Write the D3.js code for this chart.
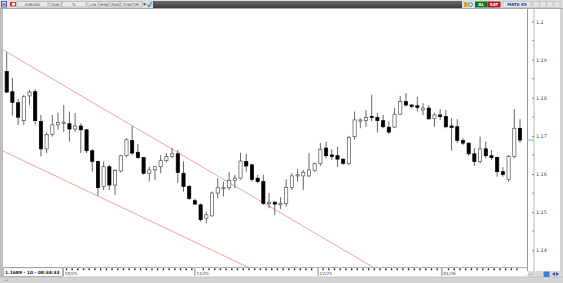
<!DOCTYPE html>
<html>
<head>
<meta charset="utf-8">
<script src="https://cdn.jsdelivr.net/npm/d3@7"></script>
<style>
  html, body { margin: 0; padding: 0; background: #d6d6d6; }
  svg { display: block; }
  text { font-family: "DejaVu Sans", sans-serif; }
</style>
</head>
<body>
<svg id="chart" width="563" height="283"></svg>
<script>
"use strict";

/* ── Data: EURUSD daily candles ── */
const opens = [
  1.1869, 1.1816, 1.1787, 1.1740, 1.1805, 1.1816, 1.1738, 1.1666, 1.1704, 1.1729,
  1.1733, 1.1732, 1.1718, 1.1726, 1.1716, 1.1661, 1.1633, 1.1567, 1.1619, 1.1571,
  1.1608, 1.1648, 1.1688, 1.1657, 1.1643, 1.1602, 1.1611, 1.1619, 1.1635, 1.1646,
  1.1653, 1.1602, 1.1567, 1.1530, 1.1519, 1.1484, 1.1490, 1.1550, 1.1562, 1.1564,
  1.1583, 1.1589, 1.1633, 1.1624, 1.1589, 1.1580, 1.1522, 1.1526, 1.1519, 1.1523,
  1.1565, 1.1595, 1.1595, 1.1595, 1.1609, 1.1627, 1.1668, 1.1650, 1.1648, 1.1639,
  1.1627, 1.1698, 1.1739, 1.1740, 1.1751, 1.1748, 1.1740, 1.1723, 1.1723, 1.1757,
  1.1790, 1.1781, 1.1779, 1.1768, 1.1773, 1.1746, 1.1755, 1.1751, 1.1726, 1.1724,
  1.1688, 1.1681, 1.1653, 1.1633, 1.1666, 1.1648, 1.1643, 1.1606, 1.1586, 1.1646,
  1.1720
];
const highs = [
  1.1919, 1.1852, 1.1797, 1.1808, 1.1821, 1.1823, 1.1755, 1.1709, 1.1755, 1.1761,
  1.1781, 1.1764, 1.1760, 1.1733, 1.1718, 1.1665, 1.1635, 1.1633, 1.1624, 1.1613,
  1.1650, 1.1694, 1.1726, 1.1679, 1.1644, 1.1619, 1.1621, 1.1650, 1.1655, 1.1668,
  1.1663, 1.1633, 1.1571, 1.1536, 1.1523, 1.1501, 1.1554, 1.1589, 1.1580, 1.1606,
  1.1598, 1.1656, 1.1653, 1.1627, 1.1598, 1.1598, 1.1550, 1.1528, 1.1539, 1.1586,
  1.1602, 1.1613, 1.1611, 1.1655, 1.1630, 1.1681, 1.1685, 1.1665, 1.1672, 1.1641,
  1.1700, 1.1764, 1.1746, 1.1768, 1.1808, 1.1760, 1.1755, 1.1738, 1.1773, 1.1805,
  1.1812, 1.1784, 1.1803, 1.1786, 1.1781, 1.1761, 1.1770, 1.1768, 1.1746, 1.1744,
  1.1694, 1.1682, 1.1668, 1.1698, 1.1685, 1.1663, 1.1646, 1.1618, 1.1650, 1.1770,
  1.1744
];
const lows = [
  1.1813, 1.1753, 1.1729, 1.1729, 1.1781, 1.1729, 1.1646, 1.1655, 1.1698, 1.1716,
  1.1711, 1.1685, 1.1711, 1.1655, 1.1655, 1.1606, 1.1543, 1.1558, 1.1558, 1.1545,
  1.1604, 1.1644, 1.1650, 1.1640, 1.1598, 1.1580, 1.1585, 1.1602, 1.1630, 1.1641,
  1.1577, 1.1554, 1.1532, 1.1519, 1.1475, 1.1471, 1.1488, 1.1536, 1.1541, 1.1558,
  1.1563, 1.1585, 1.1606, 1.1580, 1.1576, 1.1519, 1.1510, 1.1493, 1.1508, 1.1514,
  1.1558, 1.1580, 1.1558, 1.1592, 1.1606, 1.1621, 1.1641, 1.1637, 1.1619, 1.1624,
  1.1624, 1.1690, 1.1720, 1.1724, 1.1738, 1.1709, 1.1720, 1.1705, 1.1720, 1.1755,
  1.1777, 1.1773, 1.1764, 1.1755, 1.1742, 1.1724, 1.1742, 1.1720, 1.1661, 1.1681,
  1.1676, 1.1648, 1.1621, 1.1628, 1.1641, 1.1637, 1.1593, 1.1593, 1.1580, 1.1641,
  1.1682
];
const closes = [
  1.1815, 1.1788, 1.1749, 1.1803, 1.1815, 1.1740, 1.1666, 1.1704, 1.1729, 1.1735,
  1.1736, 1.1718, 1.1726, 1.1716, 1.1661, 1.1633, 1.1564, 1.1619, 1.1571, 1.1609,
  1.1648, 1.1690, 1.1655, 1.1643, 1.1602, 1.1611, 1.1619, 1.1635, 1.1646, 1.1653,
  1.1604, 1.1567, 1.1536, 1.1521, 1.1480, 1.1493, 1.1550, 1.1564, 1.1564, 1.1583,
  1.1589, 1.1634, 1.1621, 1.1586, 1.1580, 1.1523, 1.1526, 1.1521, 1.1523, 1.1565,
  1.1595, 1.1598, 1.1604, 1.1611, 1.1627, 1.1665, 1.1648, 1.1646, 1.1639, 1.1628,
  1.1696, 1.1742, 1.1742, 1.1748, 1.1748, 1.1740, 1.1724, 1.1710, 1.1757, 1.1790,
  1.1781, 1.1777, 1.1775, 1.1773, 1.1745, 1.1755, 1.1751, 1.1724, 1.1722, 1.1688,
  1.1681, 1.1653, 1.1633, 1.1666, 1.1648, 1.1643, 1.1606, 1.1599, 1.1646, 1.1720,
  1.1689
];

const priceTicks  = [1.14, 1.15, 1.16, 1.17, 1.18, 1.19, 1.20];
const priceLabels = ["1.14", "1.15", "1.16", "1.17", "1.18", "1.19", "1.2"];
const minorTicks  = [1.145, 1.155, 1.165, 1.175, 1.185, 1.195];

const monthTickIdx = [9.9, 33.0, 54.6, 76.3];
const monthLabels  = ["10/25", "11/25", "12/25", "01/26"];

// two trend lines, each given by two (bar index, price) anchors
const upperLine = [[-0.47, 1.19242], [29.51, 1.16606]];
const lowerLine = [[-0.47, 1.16588], [42.08, 1.13569]];

const lastPrice = 1.1689;
const infoText  = "1.1689 - 10 - 08:34:33";

/* ── Layout ── */
const W = 563, H = 283;
const PLOT = { left: 3, top: 9, right: 527, bottom: 267 };
const AXIS_X = 534;

const svg = d3.select("#chart");

const x = d3.scaleLinear().domain([0, opens.length - 1]).range([6.7, 520]);
const y = d3.scaleLinear().domain([1.14, 1.20]).range([250.2, 21.6]);

/* ── Window frame ── */
svg.append("rect").attr("width", W).attr("height", H).attr("fill", "#d4d4d4");
svg.append("rect")
  .attr("x", 3).attr("y", PLOT.top)
  .attr("width", 557).attr("height", 268)
  .attr("fill", "#fff");
// left gray strip
svg.append("rect").attr("x", 0).attr("y", PLOT.top).attr("width", 3).attr("height", 268)
  .attr("fill", "#bdbdbd");

/* ── Top toolbar ── */
const tb = svg.append("g");
tb.append("rect").attr("x", 0).attr("y", 0).attr("width", W).attr("height", 9).attr("fill", "#dcdcdc");
tb.append("line").attr("x1", 0).attr("x2", W).attr("y1", 8.5).attr("y2", 8.5)
  .attr("stroke", "#9a9a9a").attr("stroke-width", 0.8);
// H icon + flag
tb.append("rect").attr("x", 1.5).attr("y", 1.5).attr("width", 5).attr("height", 5.5)
  .attr("fill", "#e8eefc").attr("stroke", "#2c4ca8").attr("stroke-width", 0.8);
tb.append("text").attr("x", 4).attr("y", 6.3).attr("text-anchor", "middle")
  .attr("font-size", 4.5).attr("font-weight", "bold").attr("fill", "#2c4ca8").text("H");
tb.append("rect").attr("x", 10).attr("y", 2).attr("width", 6).attr("height", 4.5).attr("fill", "#d33");
tb.append("rect").attr("x", 12).attr("y", 3).attr("width", 3).attr("height", 2.5).attr("fill", "#fff");

const fields = [
  { x: 17, w: 31, t: "EURUSD" },
  { x: 50, w: 11, t: "SUN" },
  { x: 62, w: 24, t: "TL" },
  { x: 88, w: 10, t: "LIN" },
  { x: 99, w: 10, t: "XHW" },
  { x: 111, w: 9, t: "SVD" },
  { x: 121, w: 21, t: "SYNCTRF" }
];
fields.forEach((f) => {
  tb.append("rect").attr("x", f.x).attr("y", 1.5).attr("width", f.w).attr("height", 5.5)
    .attr("fill", "#e9e9e9").attr("stroke", "#a5a5a5").attr("stroke-width", 0.6);
  tb.append("text").attr("x", f.x + f.w / 2).attr("y", 5.8).attr("text-anchor", "middle")
    .attr("font-size", 3.6).attr("fill", "#333").text(f.t);
});
tb.append("path").attr("d", "M143,3.5 L146,3.5 L144.5,5.5 Z").attr("fill", "#333");
tb.append("path").attr("d", "M147.5,4.5 L149,6.5 L152,1.8").attr("fill", "none")
  .attr("stroke", "#2a8fe0").attr("stroke-width", 1.2);

// dark strip
const grad = svg.append("defs").append("linearGradient").attr("id", "dark").attr("x1", 0).attr("x2", 0).attr("y1", 0).attr("y2", 1);
grad.append("stop").attr("offset", 0).attr("stop-color", "#6a6a6a");
grad.append("stop").attr("offset", 1).attr("stop-color", "#3c3c3c");
tb.append("rect").attr("x", 153).attr("y", 1).attr("width", 309).attr("height", 7).attr("fill", "url(#dark)");

// right side of toolbar
tb.append("rect").attr("x", 464).attr("y", 2).attr("width", 3.5).attr("height", 5).attr("fill", "#e0a020");
tb.append("circle").attr("cx", 470.5).attr("cy", 4.5).attr("r", 2).attr("fill", "none")
  .attr("stroke", "#20a0a0").attr("stroke-width", 0.9);
tb.append("rect").attr("x", 475).attr("y", 1.5).attr("width", 12.5).attr("height", 6).attr("fill", "#0c7a1c");
tb.append("text").attr("x", 481.2).attr("y", 6).attr("text-anchor", "middle")
  .attr("font-size", 4).attr("fill", "#fff").attr("font-weight", "bold").text("AL");
tb.append("rect").attr("x", 487.5).attr("y", 1.5).attr("width", 13).attr("height", 6).attr("fill", "#b3161c");
tb.append("text").attr("x", 494).attr("y", 6).attr("text-anchor", "middle")
  .attr("font-size", 4).attr("fill", "#fff").attr("font-weight", "bold").text("SAT");
tb.append("rect").attr("x", 503).attr("y", 1.5).attr("width", 28).attr("height", 6)
  .attr("fill", "#e6e8f0").attr("stroke", "#a8a8b8").attr("stroke-width", 0.5);
tb.append("text").attr("x", 517).attr("y", 6).attr("text-anchor", "middle")
  .attr("font-size", 4).attr("fill", "#2b3c8c").attr("font-weight", "bold").text("MAT8 K5");
[533, 540, 547, 554].forEach((bx) => {
  tb.append("rect").attr("x", bx).attr("y", 1.5).attr("width", 6).attr("height", 6)
    .attr("fill", "#e4e4e4").attr("stroke", "#b0b0b0").attr("stroke-width", 0.5);
});

/* ── Right price axis ── */
svg.append("line").attr("x1", PLOT.right + 0.5).attr("x2", PLOT.right + 0.5)
  .attr("y1", PLOT.top).attr("y2", 271).attr("stroke", "#9a9a9a").attr("stroke-width", 1);
svg.append("line").attr("x1", AXIS_X).attr("x2", AXIS_X)
  .attr("y1", PLOT.top).attr("y2", 271).attr("stroke", "#888").attr("stroke-width", 0.6);

const yAxis = svg.append("g").attr("transform", `translate(${AXIS_X},0)`)
  .call(d3.axisRight(y).tickValues(priceTicks).tickSizeInner(-2).tickSizeOuter(0)
    .tickPadding(2).tickFormat((d, i) => priceLabels[i]));
yAxis.select(".domain").remove();
yAxis.selectAll("line").attr("stroke", "#555").attr("stroke-width", 0.7);
yAxis.selectAll("text").attr("font-size", 4.8).attr("fill", "#444")
  .attr("font-family", "DejaVu Sans, sans-serif");

svg.append("g").selectAll("line").data(minorTicks).join("line")
  .attr("x1", AXIS_X - 2).attr("x2", AXIS_X)
  .attr("y1", (d) => y(d)).attr("y2", (d) => y(d))
  .attr("stroke", "#666").attr("stroke-width", 0.6);

// current price marker
svg.append("line").attr("x1", PLOT.right + 1).attr("x2", AXIS_X)
  .attr("y1", y(lastPrice)).attr("y2", y(lastPrice))
  .attr("stroke", "#36b8e0").attr("stroke-width", 0.8);

/* ── Plot ── */
svg.append("clipPath").attr("id", "clip").append("rect")
  .attr("x", PLOT.left).attr("y", PLOT.top)
  .attr("width", PLOT.right - PLOT.left).attr("height", PLOT.bottom - PLOT.top);
const plot = svg.append("g").attr("clip-path", "url(#clip)");

// trend lines
const lineGen = d3.line().x((d) => x(d[0])).y((d) => y(d[1]));
function extend(pts) {
  const [a, b] = pts;
  const slope = (b[1] - a[1]) / (b[0] - a[0]);
  const i0 = -2, i1 = 120;
  return [[i0, a[1] + (i0 - a[0]) * slope], [i1, a[1] + (i1 - a[0]) * slope]];
}
[upperLine, lowerLine].forEach((ln) => {
  plot.append("path").attr("d", lineGen(extend(ln)))
    .attr("fill", "none").attr("stroke", "#f28c8c").attr("stroke-width", 0.8);
});

// candles
const bars = d3.range(opens.length).map((i) => ({
  i, o: opens[i], h: highs[i], l: lows[i], c: closes[i]
}));
const BW = 3.2;
const cg = plot.append("g");
cg.selectAll(".wick").data(bars).join("line").attr("class", "wick")
  .attr("x1", (d) => x(d.i)).attr("x2", (d) => x(d.i))
  .attr("y1", (d) => y(d.h)).attr("y2", (d) => y(d.l))
  .attr("stroke", "#4a4a4a").attr("stroke-width", 0.85);
cg.selectAll(".body").data(bars).join("rect").attr("class", "body")
  .attr("x", (d) => x(d.i) - BW / 2)
  .attr("y", (d) => y(Math.max(d.o, d.c)))
  .attr("width", BW)
  .attr("height", (d) => Math.max(1, Math.abs(y(d.o) - y(d.c))))
  .attr("fill", (d) => (d.c >= d.o ? "#fff" : "#000"))
  .attr("stroke", (d) => (d.c >= d.o ? "#555" : "#000"))
  .attr("stroke-width", 0.7);

/* ── Bottom time axis ── */
svg.append("line").attr("x1", 3).attr("x2", PLOT.right).attr("y1", PLOT.bottom + 0.5).attr("y2", PLOT.bottom + 0.5)
  .attr("stroke", "#9a9a9a").attr("stroke-width", 0.8);

const monthX = monthTickIdx.map((m) => x(m));
svg.append("g").selectAll("rect")
  .data(bars.filter((d) => x(d.i) + 2.6 > 66 && x(d.i) + 2.6 < 522 &&
    monthX.every((mx) => Math.abs(x(d.i) + 2.6 - mx) > 3)))
  .join("rect")
  .attr("x", (d) => x(d.i) + 2.0).attr("y", 268.4)
  .attr("width", 1.4).attr("height", 1.8).attr("fill", "#222");

const mt = svg.append("g").selectAll("g").data(monthTickIdx).join("g")
  .attr("transform", (d) => `translate(${x(d)},0)`);
mt.append("line").attr("y1", 268).attr("y2", 276).attr("stroke", "#555").attr("stroke-width", 0.7);
mt.append("text").attr("x", 1.5).attr("y", 275.2).attr("font-size", 4.3).attr("fill", "#333")
  .text((d, i) => monthLabels[i]);

// info box
svg.append("rect").attr("x", 3.5).attr("y", 267.8).attr("width", 59).attr("height", 8.6)
  .attr("fill", "#fff").attr("stroke", "#8a8a8a").attr("stroke-width", 0.6);
svg.append("text").attr("x", 5).attr("y", 274).attr("font-size", 4.4)
  .attr("font-family", "DejaVu Sans Mono, monospace").attr("font-weight", "bold")
  .attr("fill", "#222").text(infoText);

// bottom-right gray cell + status bar
svg.append("rect").attr("x", PLOT.right + 1).attr("y", 271).attr("width", 33).attr("height", 6).attr("fill", "#dadada");
svg.append("rect").attr("x", 0).attr("y", 277).attr("width", W).attr("height", 6).attr("fill", "#d4d4d4");
svg.append("line").attr("x1", 0).attr("x2", W).attr("y1", 277).attr("y2", 277).attr("stroke", "#b0b0b0").attr("stroke-width", 0.6);
svg.append("text").attr("x", 3.5).attr("y", 281.5).attr("font-size", 3.5).attr("fill", "#555").text("⌐┘");
svg.append("text").attr("x", 524).attr("y", 275.5).attr("font-size", 3.5).attr("fill", "#666").text("…⌐┘");
svg.append("rect").attr("x", 543.5).attr("y", 271.5).attr("width", 6).attr("height", 5.5).attr("rx", 1)
  .attr("fill", "#3d7fd8");
svg.append("path").attr("d", "M552,274 L555,272 L555,276 Z M556,272 L559,274 L556,276 Z").attr("fill", "#2c4ca8");
</script>
</body>
</html>
